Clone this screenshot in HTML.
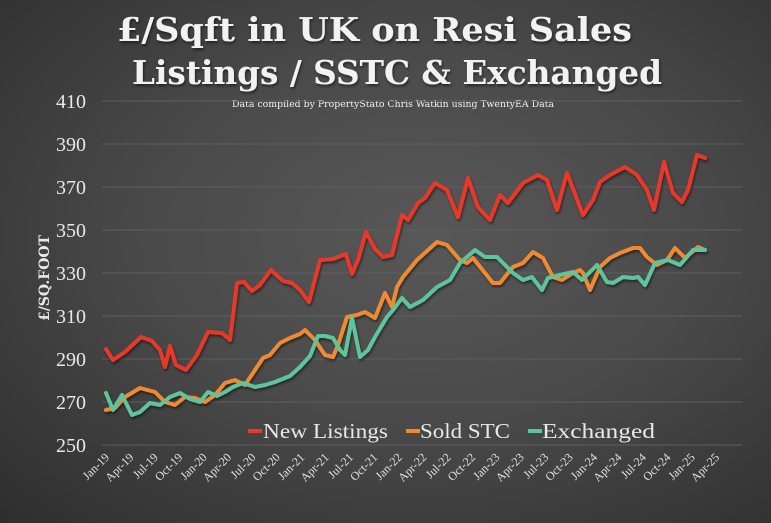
<!DOCTYPE html>
<html><head><meta charset="utf-8"><style>
html,body{margin:0;padding:0;}
body{width:771px;height:523px;overflow:hidden;background:radial-gradient(ellipse at 55% 45%,#585858 0%,#4a4a4a 45%,#2e2e2e 100%);}
svg{display:block}
</style></head><body>
<svg width="771" height="523" xmlns="http://www.w3.org/2000/svg" font-family="'Liberation Serif',serif">
<defs><filter id="sh" x="-5%" y="-5%" width="110%" height="110%"><feDropShadow dx="1" dy="2" stdDeviation="1.2" flood-color="#000" flood-opacity="0.5"/></filter></defs>
<g font-family="'DejaVu Serif',serif" font-weight="bold" font-size="33" fill="#f2f2f2" filter="url(#sh)">
<text x="117" y="41" textLength="515" lengthAdjust="spacingAndGlyphs">£/Sqft in UK on Resi Sales</text>
<text x="132" y="84" textLength="530" lengthAdjust="spacingAndGlyphs">Listings / SSTC &amp; Exchanged</text>
</g>
<text x="232" y="107" font-family="'DejaVu Serif',serif" font-size="9.5" fill="#f2f2f2" textLength="322" lengthAdjust="spacingAndGlyphs">Data compiled by PropertyStato Chris Watkin using TwentyEA Data</text>
<g stroke="#5e5e5e" stroke-width="1">
<line x1="102" x2="742" y1="101" y2="101"/><line x1="102" x2="742" y1="144" y2="144"/><line x1="102" x2="742" y1="187" y2="187"/><line x1="102" x2="742" y1="230" y2="230"/><line x1="102" x2="742" y1="273" y2="273"/><line x1="102" x2="742" y1="316" y2="316"/><line x1="102" x2="742" y1="359" y2="359"/><line x1="102" x2="742" y1="402" y2="402"/><line x1="102" x2="742" y1="445" y2="445"/>
</g>
<g font-size="20" fill="#e8e8e8" text-anchor="end">
<text x="86" y="108">410</text><text x="86" y="151">390</text><text x="86" y="194">370</text><text x="86" y="237">350</text><text x="86" y="280">330</text><text x="86" y="323">310</text><text x="86" y="366">290</text><text x="86" y="409">270</text><text x="86" y="452">250</text>
</g>
<text transform="translate(49,278) rotate(-90)" text-anchor="middle" font-family="'DejaVu Serif',serif" font-size="14" font-weight="bold" fill="#e8e8e8">£/SQ.FOOT</text>
<g fill="none" stroke-width="4" stroke-linejoin="round" stroke-linecap="round" filter="url(#sh)">
<polyline stroke="#e8392a" points="106,349 113,360 125,352 141,337 152,341 160,350 165,367 170,346 176,365 186,370 197,355 208,332 222,333 230,340 237,283 244,282 252,291 260,285 271,270 283,281 292,283 300,290 309,302 320,260 333,259 346,254 352,274 358,260 366,232 375,249 383,257 392,255 402,215 408,220 418,203 425,198 435,183 447,190 458,217 468,178 478,207 490,220 500,195 508,203 523,183 538,175 547,180 557,210 567,173 583,215 593,200 600,182 610,175 625,167 637,175 647,190 654,210 664,162 673,193 682,202 688,190 697,155 705,158"/>
<polyline stroke="#f08a30" points="106,410 115,408 125,397 140,388 155,392 165,402 175,405 185,397 195,398 205,402 215,395 225,383 235,380 245,385 255,370 263,358 270,355 280,343 290,338 300,334 305,330 315,340 325,355 333,357 338,345 347,317 357,315 365,312 375,318 385,293 392,307 397,287 403,277 417,260 437,242 447,245 460,260 467,263 473,258 493,283 500,283 513,267 523,263 533,252 543,258 553,277 562,280 573,273 580,270 583,273 590,290 600,267 610,258 620,253 633,248 640,248 647,257 657,265 667,260 675,248 685,258 698,247 705,250"/>
<polyline stroke="#5ec49c" points="106,393 113,410 122,395 132,415 140,412 150,403 160,405 170,397 180,393 190,399 200,402 208,392 217,396 225,392 233,387 243,383 255,387 265,385 275,382 290,376 300,367 310,356 318,336 325,336 333,338 340,350 345,355 352,318 360,357 368,350 375,337 387,317 393,310 402,298 410,307 423,300 437,287 450,280 460,263 475,250 485,257 497,257 513,273 523,280 532,277 542,290 548,278 560,275 573,272 582,280 597,265 607,282 613,283 623,277 633,278 638,277 645,285 655,263 668,260 680,265 693,250 705,250"/>
</g>
<g font-size="21" fill="#e8e8e8">
<line x1="248" y1="431" x2="262" y2="431" stroke="#e8392a" stroke-width="4"/><text x="263" y="438" textLength="125" lengthAdjust="spacingAndGlyphs">New Listings</text>
<line x1="406" y1="431" x2="420" y2="431" stroke="#f08a30" stroke-width="4"/><text x="420" y="438" textLength="90" lengthAdjust="spacingAndGlyphs">Sold STC</text>
<line x1="528" y1="431" x2="542" y2="431" stroke="#5ec49c" stroke-width="4"/><text x="542" y="438" textLength="113" lengthAdjust="spacingAndGlyphs">Exchanged</text>
</g>
<g font-size="12" fill="#e0e0e0" text-anchor="end">
<text transform="translate(110,458) rotate(-45)">Jan-19</text><text transform="translate(134.4,458) rotate(-45)">Apr-19</text><text transform="translate(158.8,458) rotate(-45)">Jul-19</text><text transform="translate(183.2,458) rotate(-45)">Oct-19</text><text transform="translate(207.6,458) rotate(-45)">Jan-20</text><text transform="translate(232,458) rotate(-45)">Apr-20</text><text transform="translate(256.4,458) rotate(-45)">Jul-20</text><text transform="translate(280.8,458) rotate(-45)">Oct-20</text><text transform="translate(305.2,458) rotate(-45)">Jan-21</text><text transform="translate(329.6,458) rotate(-45)">Apr-21</text><text transform="translate(354,458) rotate(-45)">Jul-21</text><text transform="translate(378.4,458) rotate(-45)">Oct-21</text><text transform="translate(402.8,458) rotate(-45)">Jan-22</text><text transform="translate(427.2,458) rotate(-45)">Apr-22</text><text transform="translate(451.6,458) rotate(-45)">Jul-22</text><text transform="translate(476,458) rotate(-45)">Oct-22</text><text transform="translate(500.4,458) rotate(-45)">Jan-23</text><text transform="translate(524.8,458) rotate(-45)">Apr-23</text><text transform="translate(549.2,458) rotate(-45)">Jul-23</text><text transform="translate(573.6,458) rotate(-45)">Oct-23</text><text transform="translate(598,458) rotate(-45)">Jan-24</text><text transform="translate(622.4,458) rotate(-45)">Apr-24</text><text transform="translate(646.8,458) rotate(-45)">Jul-24</text><text transform="translate(671.2,458) rotate(-45)">Oct-24</text><text transform="translate(695.6,458) rotate(-45)">Jan-25</text><text transform="translate(720,458) rotate(-45)">Apr-25</text>
</g>
</svg>
</body></html>
